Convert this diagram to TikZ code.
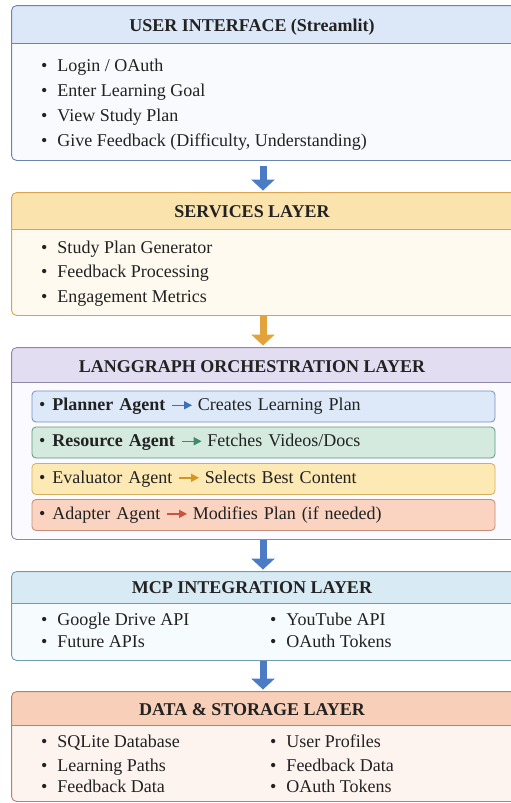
\documentclass[tikz,border=0pt]{standalone}
\usepackage{amsmath,amsfonts}
\usepackage{fontspec}
\setmainfont{Liberation Serif}
\usetikzlibrary{arrows.meta}

\definecolor{ink}{HTML}{222222}
\definecolor{uititle}{HTML}{DCE8F7}
\definecolor{uibody}{HTML}{F8FAFD}
\definecolor{uiline}{HTML}{6A85B0}
\definecolor{svctitle}{HTML}{FBE3AE}
\definecolor{svcbody}{HTML}{FFFAEF}
\definecolor{svcline}{HTML}{D6A553}
\definecolor{lgtitle}{HTML}{E3DDF2}
\definecolor{lgbody}{HTML}{FBFAFE}
\definecolor{lgline}{HTML}{8F86AD}
\definecolor{mcptitle}{HTML}{D8EBF4}
\definecolor{mcpbody}{HTML}{F6FBFD}
\definecolor{mcpline}{HTML}{6F9CB2}
\definecolor{datatitle}{HTML}{F8CFB8}
\definecolor{databody}{HTML}{FDF3EF}
\definecolor{dataline}{HTML}{B9806C}
\definecolor{planfill}{HTML}{DDE9F9}
\definecolor{planline}{HTML}{7590C0}
\definecolor{planarr}{HTML}{3F6FB5}
\definecolor{resfill}{HTML}{D4EADF}
\definecolor{resline}{HTML}{5F957D}
\definecolor{resarr}{HTML}{3F8A6C}
\definecolor{evalfill}{HTML}{FDE9B4}
\definecolor{evalline}{HTML}{D3AE5E}
\definecolor{evalarr}{HTML}{D9931F}
\definecolor{adapfill}{HTML}{FBD4C1}
\definecolor{adapline}{HTML}{C48B77}
\definecolor{adaparr}{HTML}{C8553D}
\definecolor{bluearr}{HTML}{4A7BC4}
\definecolor{orangearr}{HTML}{E2A23C}

\newcommand{\bul}{\textbullet\hspace{10pt}}
\newcommand{\abul}{\textbullet\hspace{7pt}}
\newcommand{\aarr}[1]{\hspace{6pt}\tikz[baseline=-5.5pt, x=1pt, y=1pt]\draw[#1, line width=1.5pt, -{Triangle[width=8pt,length=8pt]}] (0,0) -- (20,0);\hspace{5pt}}

\begin{document}
\begin{tikzpicture}[x=1pt, y=-1pt,
    lnode/.style={rounded corners=5pt, minimum width=508pt, inner sep=0pt, line width=0.9pt},
    tnode/.style={anchor=base, font=\fontsize{18}{21}\selectfont\bfseries, text=ink},
    inode/.style={anchor=base west, font=\fontsize{18}{21}\selectfont, text=ink, inner sep=0pt},
    anode/.style={draw=#1line, fill=#1fill, rounded corners=4pt, line width=0.8pt, minimum width=463pt, minimum height=31pt, text width=449pt, inner xsep=7pt, align=left, font=\fontsize{18}{21}\selectfont, text=ink},
    barrow/.style={line width=7pt, -{Triangle[width=23pt,length=11pt]}, shorten <=6pt, shorten >=2pt}]
    \clip (0,0) rectangle (511,803);

    % user interface
    \node[lnode, fill=uibody, minimum height=154pt] (ui) at (266,83) {};
    \fill[uititle] (ui.west |- 0,43) [rounded corners=5pt] -- (ui.north west) -- (ui.north east) -- (ui.east |- 0,43) [sharp corners] -- cycle;
    \draw[uiline, line width=0.9pt] (ui.west |- 0,43) -- (ui.east |- 0,43);
    \draw[uiline, lnode] (ui.north west) rectangle (ui.south east);
    \node[tnode] (uit) at (252,31) {USER INTERFACE (Streamlit)};
    \node[inode] (ui1) at (41,71) {\bul Login / OAuth};
    \node[inode] (ui2) at (41,96) {\bul Enter Learning Goal};
    \node[inode] (ui3) at (41,121) {\bul View Study Plan};
    \node[inode] (ui4) at (41,146) {\bul Give Feedback (Difficulty, Understanding)};

    % services
    \node[lnode, fill=svcbody, minimum height=122pt] (svc) at (266,254) {};
    \fill[svctitle] (svc.west |- 0,229) [rounded corners=5pt] -- (svc.north west) -- (svc.north east) -- (svc.east |- 0,229) [sharp corners] -- cycle;
    \draw[svcline, line width=0.9pt] (svc.west |- 0,229) -- (svc.east |- 0,229);
    \draw[svcline, lnode] (svc.north west) rectangle (svc.south east);
    \node[tnode] (svct) at (252,217) {SERVICES LAYER};
    \node[inode] (svc1) at (41,253) {\bul Study Plan Generator};
    \node[inode] (svc2) at (41,277) {\bul Feedback Processing};
    \node[inode] (svc3) at (41,302) {\bul Engagement Metrics};

    % langgraph
    \node[lnode, fill=lgbody, minimum height=191pt] (lg) at (266,443.5) {};
    \fill[lgtitle] (lg.west |- 0,382) [rounded corners=5pt] -- (lg.north west) -- (lg.north east) -- (lg.east |- 0,382) [sharp corners] -- cycle;
    \draw[lgline, line width=0.9pt] (lg.west |- 0,382) -- (lg.east |- 0,382);
    \draw[lgline, lnode] (lg.north west) rectangle (lg.south east);
    \node[tnode] (lgt) at (252,372) {LANGGRAPH ORCHESTRATION LAYER};
    \node[anode=plan] (plan) at (263.5,406.5) {\abul\textbf{Planner Agent}\aarr{planarr}Creates Learning Plan};
    \node[anode=res] (res) at (263.5,442.5) {\abul\textbf{Resource Agent}\aarr{resarr}Fetches Videos/Docs};
    \node[anode=eval] (eval) at (263.5,479) {\abul Evaluator Agent\aarr{evalarr}Selects Best Content};
    \node[anode=adap] (adap) at (263.5,515) {\abul Adapter Agent\aarr{adaparr}Modifies Plan (if needed)};

    % mcp
    \node[lnode, fill=mcpbody, minimum height=88pt] (mcp) at (266,616) {};
    \fill[mcptitle] (mcp.west |- 0,603) [rounded corners=5pt] -- (mcp.north west) -- (mcp.north east) -- (mcp.east |- 0,603) [sharp corners] -- cycle;
    \draw[mcpline, line width=0.9pt] (mcp.west |- 0,603) -- (mcp.east |- 0,603);
    \draw[mcpline, lnode] (mcp.north west) rectangle (mcp.south east);
    \node[tnode] (mcpt) at (252,593) {MCP INTEGRATION LAYER};
    \node[inode] (mcp1) at (41,625) {\bul Google Drive API};
    \node[inode] (mcp2) at (41,647) {\bul Future APIs};
    \node[inode] (mcp3) at (270,625) {\bul YouTube API};
    \node[inode] (mcp4) at (270,647) {\bul OAuth Tokens};

    % data
    \node[lnode, fill=databody, minimum height=109pt] (data) at (266,746.5) {};
    \fill[datatitle] (data.west |- 0,725) [rounded corners=5pt] -- (data.north west) -- (data.north east) -- (data.east |- 0,725) [sharp corners] -- cycle;
    \draw[dataline, line width=0.9pt] (data.west |- 0,725) -- (data.east |- 0,725);
    \draw[dataline, lnode] (data.north west) rectangle (data.south east);
    \node[tnode] (datat) at (252,715) {DATA \& STORAGE LAYER};
    \node[inode] (data1) at (41,747) {\bul SQLite Database};
    \node[inode] (data2) at (41,771) {\bul Learning Paths};
    \node[inode] (data3) at (41,792) {\bul Feedback Data};
    \node[inode] (data4) at (270,747) {\bul User Profiles};
    \node[inode] (data5) at (270,771) {\bul Feedback Data};
    \node[inode] (data6) at (270,792) {\bul OAuth Tokens};

    \draw[barrow, bluearr] ([xshift=-3pt]ui.south) -- ([xshift=-3pt]svc.north);
    \draw[barrow, orangearr, shorten <=1pt] ([xshift=-3pt]svc.south) -- ([xshift=-3pt]lg.north);
    \draw[barrow, bluearr, shorten <=1pt] ([xshift=-3pt]lg.south) -- ([xshift=-3pt]mcp.north);
    \draw[barrow, bluearr, shorten <=1pt] ([xshift=-3pt]mcp.south) -- ([xshift=-3pt]data.north);
\end{tikzpicture}
\end{document}
